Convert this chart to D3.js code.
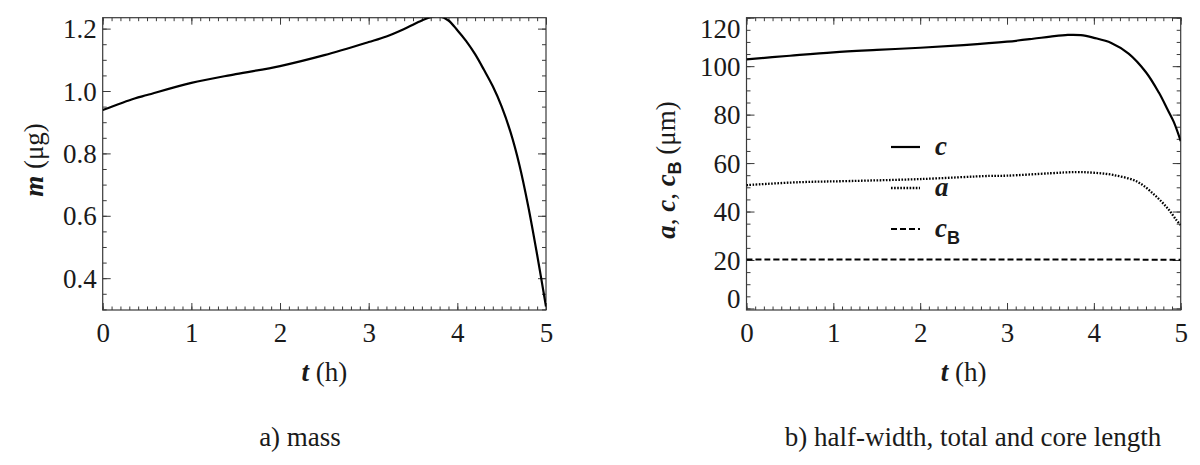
<!DOCTYPE html>
<html>
<head>
<meta charset="utf-8">
<script src="https://cdn.jsdelivr.net/npm/d3@7"></script>
<style>
  html, body { margin: 0; padding: 0; background: #fff; }
  svg { display: block; }
  text, tspan { font-family: "Liberation Serif", "DejaVu Serif", serif; fill: #1a1a1a; }
</style>
</head>
<body>
<svg id="chart" width="1200" height="465"></svg>
<script>
// ---------- data ----------
const timeM = [0, 0.36, 0.5, 1, 1.5, 2, 2.5, 3, 3.2, 3.4, 3.6, 3.7, 3.8, 3.9, 4.0, 4.1, 4.2, 4.3, 4.4, 4.5, 4.6, 4.7, 4.8, 4.9, 5.0];
const massM = [0.939, 0.976, 0.987, 1.026, 1.054, 1.080, 1.115, 1.157, 1.175, 1.199, 1.226, 1.237, 1.239, 1.226, 1.195, 1.160, 1.118, 1.068, 1.015, 0.950, 0.868, 0.763, 0.630, 0.475, 0.309];

const timeC = [0, 0.5, 1, 1.5, 2, 2.5, 3, 3.3, 3.5, 3.7, 3.85, 4.0, 4.2, 4.4, 4.6, 4.75, 4.85, 4.92, 5.0];
const lengthC = [102.8, 104.3, 105.7, 106.7, 107.6, 108.7, 110.1, 111.3, 112.2, 112.9, 112.8, 111.7, 109.6, 105.2, 97.5, 89.0, 82.0, 77.0, 69.1];

const timeA = [0, 0.6, 1.2, 2, 2.8, 3.0, 3.5, 3.8, 4.0, 4.22, 4.5, 4.7, 4.85, 4.95, 5.0];
const halfWidthA = [50.9, 52.1, 52.6, 53.4, 54.7, 54.8, 55.8, 56.3, 56.0, 55.1, 52.3, 46.8, 41.3, 36.5, 34.4];

const timeCB = [0, 1, 2, 3, 4, 5];
const coreCB = [20.2, 20.2, 20.2, 20.2, 20.2, 20.1];

const xTicks = [0, 1, 2, 3, 4, 5];
const yTicksM = [0.4, 0.6, 0.8, 1.0, 1.2];
const yTicksL = [0, 20, 40, 60, 80, 100, 120];

// ---------- layout ----------
const svg = d3.select("#chart");
const frameColor = "#3a3a3a";
const SERIF = "'Liberation Serif', 'DejaVu Serif', serif";
const SANS = "'Liberation Sans', Arial, sans-serif";
const tickFont = "27px";
const titleFont = "27px";

function drawFrame(g, x, y, xMinorStep, yMinorStep, yTicks, yFormat, yLabelNudge) {
  const [x0, x1] = x.range();
  const [yb, yt] = y.range();
  const xd = x.domain(), yd = y.domain();
  const xMinor = d3.range(Math.ceil(xd[0] / xMinorStep), Math.floor(xd[1] / xMinorStep + 1e-9) + 1).map(i => +(i * xMinorStep).toFixed(6));
  const yMinor = d3.range(Math.ceil(yd[0] / yMinorStep), Math.floor(yd[1] / yMinorStep + 1e-9) + 1).map(i => +(i * yMinorStep).toFixed(6));

  const style = sel => {
    sel.select(".domain").remove();
    sel.attr("font-family", SERIF);
    sel.selectAll(".tick line").attr("stroke", frameColor).attr("stroke-width", 1);
  };
  // minor ticks
  g.append("g").attr("transform", `translate(0,${yb})`)
    .call(d3.axisBottom(x).tickValues(xMinor).tickSize(-3.5).tickFormat("")).call(style);
  g.append("g").attr("transform", `translate(0,${yt})`)
    .call(d3.axisTop(x).tickValues(xMinor).tickSize(-3.5).tickFormat("")).call(style);
  g.append("g").attr("transform", `translate(${x0},0)`)
    .call(d3.axisLeft(y).tickValues(yMinor).tickSize(-4).tickFormat("")).call(style);
  g.append("g").attr("transform", `translate(${x1},0)`)
    .call(d3.axisRight(y).tickValues(yMinor).tickSize(-4).tickFormat("")).call(style);

  // major ticks + labels
  const xb = g.append("g").attr("transform", `translate(0,${yb})`)
    .call(d3.axisBottom(x).tickValues(xTicks).tickSizeInner(-7).tickSizeOuter(0).tickPadding(13).tickFormat(d3.format("d")))
    .call(style);
  xb.selectAll("text").style("font-size", tickFont).style("font-family", SERIF).attr("fill", "#1a1a1a");
  g.append("g").attr("transform", `translate(0,${yt})`)
    .call(d3.axisTop(x).tickValues(xTicks).tickSize(-7).tickFormat("")).call(style);

  const yl = g.append("g").attr("transform", `translate(${x0},0)`)
    .call(d3.axisLeft(y).tickValues(yTicks).tickSizeInner(-8).tickSizeOuter(0).tickPadding(6).tickFormat(yFormat))
    .call(style);
  yl.selectAll("text").style("font-size", tickFont).style("font-family", SERIF).attr("fill", "#1a1a1a")
    .attr("transform", d => `translate(0,${yLabelNudge(d)})`).attr("dy", "0.34em");
  g.append("g").attr("transform", `translate(${x1},0)`)
    .call(d3.axisRight(y).tickValues(yTicks).tickSize(-8).tickFormat("")).call(style);

  // frame
  g.append("rect").attr("x", x0).attr("y", yt).attr("width", x1 - x0).attr("height", yb - yt)
    .attr("fill", "none").attr("stroke", frameColor).attr("stroke-width", 1.2);
}

function addClip(id, x, y) {
  const [x0, x1] = x.range();
  const [yb, yt] = y.range();
  svg.append("clipPath").attr("id", id).append("rect")
    .attr("x", x0).attr("y", yt).attr("width", x1 - x0).attr("height", yb - yt);
}

const lineGen = (x, y) => d3.line().x(d => x(d[0])).y(d => y(d[1])).curve(d3.curveCatmullRom.alpha(0.5));
const boldItalic = (t, s) => t.append("tspan").text(s).style("font-weight", "bold").style("font-style", "italic").style("font-family", SERIF);

// ---------- panel a: mass ----------
const xA = d3.scaleLinear().domain([0, 5]).range([102.7, 546]);
const yA = d3.scaleLinear().domain([0.298, 1.235]).range([310, 17.7]);
addClip("clipA", xA, yA);
const gA = svg.append("g");
drawFrame(gA, xA, yA, 0.1, 0.05, yTicksM, d3.format(".1f"), () => 0);

gA.append("path")
  .datum(d3.zip(timeM, massM))
  .attr("d", lineGen(xA, yA))
  .attr("clip-path", "url(#clipA)")
  .attr("fill", "none").attr("stroke", "#000").attr("stroke-width", 2.2);

gA.append("text").attr("x", (xA.range()[0] + xA.range()[1]) / 2).attr("y", 381)
  .attr("text-anchor", "middle").style("font-size", titleFont).style("font-family", SERIF)
  .call(t => { boldItalic(t, "t"); t.append("tspan").text(" (h)").style("font-family", SERIF); });
gA.append("text").attr("transform", "translate(43,160) rotate(-90)")
  .attr("text-anchor", "middle").style("font-size", titleFont).style("font-family", SERIF)
  .call(t => { boldItalic(t, "m"); t.append("tspan").text(" (μg)").style("font-family", SERIF); });
svg.append("text").attr("x", 300).attr("y", 446).attr("text-anchor", "middle")
  .style("font-size", "27px").style("font-family", SERIF).text("a) mass");

// ---------- panel b: lengths ----------
const xB = d3.scaleLinear().domain([0, 5]).range([746.5, 1180.7]);
const yB = d3.scaleLinear().domain([-0.64, 120]).range([310, 17.7]);
addClip("clipB", xB, yB);
const gB = svg.append("g");
// end labels sit slightly inside the frame, as in the reference
drawFrame(gB, xB, yB, 0.1, 5, yTicksL, d3.format("d"), d => d === 120 ? 11 : (d === 0 ? -10 : 0));

const dotDash = "1.6,1.5";
gB.append("path").datum(d3.zip(timeC, lengthC)).attr("d", lineGen(xB, yB))
  .attr("clip-path", "url(#clipB)")
  .attr("fill", "none").attr("stroke", "#000").attr("stroke-width", 2.2);
gB.append("path").datum(d3.zip(timeA, halfWidthA)).attr("d", lineGen(xB, yB))
  .attr("clip-path", "url(#clipB)")
  .attr("fill", "none").attr("stroke", "#000").attr("stroke-width", 2.3).attr("stroke-dasharray", dotDash);
gB.append("path").datum(d3.zip(timeCB, coreCB)).attr("d", lineGen(xB, yB))
  .attr("clip-path", "url(#clipB)")
  .attr("fill", "none").attr("stroke", "#000").attr("stroke-width", 2).attr("stroke-dasharray", "6,3");

// legend
const legend = [
  { key: "c", dash: null, w: 2.2 },
  { key: "a", dash: dotDash, w: 2.3 },
  { key: "cB", dash: "6,3", w: 2 }
];
const lg = gB.append("g").attr("transform", "translate(891,147)");
legend.forEach((d, i) => {
  const yy = i * 41;
  lg.append("line").attr("x1", 0).attr("x2", 29).attr("y1", yy).attr("y2", yy)
    .attr("stroke", "#000").attr("stroke-width", d.w).attr("stroke-dasharray", d.dash);
  const t = lg.append("text").attr("x", 44).attr("y", yy + 8).style("font-size", "27px").style("font-family", SERIF);
  if (d.key === "cB") {
    boldItalic(t, "c");
    t.append("tspan").text("B").attr("dy", 7).style("font-family", SANS)
      .style("font-weight", "bold").style("font-size", "18px");
  } else {
    boldItalic(t, d.key);
  }
});

gB.append("text").attr("x", (xB.range()[0] + xB.range()[1]) / 2).attr("y", 381)
  .attr("text-anchor", "middle").style("font-size", titleFont).style("font-family", SERIF)
  .call(t => { boldItalic(t, "t"); t.append("tspan").text(" (h)").style("font-family", SERIF); });
gB.append("text").attr("transform", "translate(675,170) rotate(-90)")
  .attr("text-anchor", "middle").style("font-size", titleFont).style("font-family", SERIF)
  .call(t => {
    boldItalic(t, "a"); t.append("tspan").text(", ").style("font-family", SERIF);
    boldItalic(t, "c"); t.append("tspan").text(", ").style("font-family", SERIF);
    boldItalic(t, "c");
    t.append("tspan").text("B").attr("dy", 6).style("font-family", SANS)
      .style("font-weight", "bold").style("font-size", "18px");
    t.append("tspan").text(" (μm)").attr("dy", -6).style("font-family", SERIF);
  });
svg.append("text").attr("x", 973).attr("y", 446).attr("text-anchor", "middle")
  .style("font-size", "27px").style("font-family", SERIF).text("b) half-width, total and core length");
</script>
</body>
</html>
